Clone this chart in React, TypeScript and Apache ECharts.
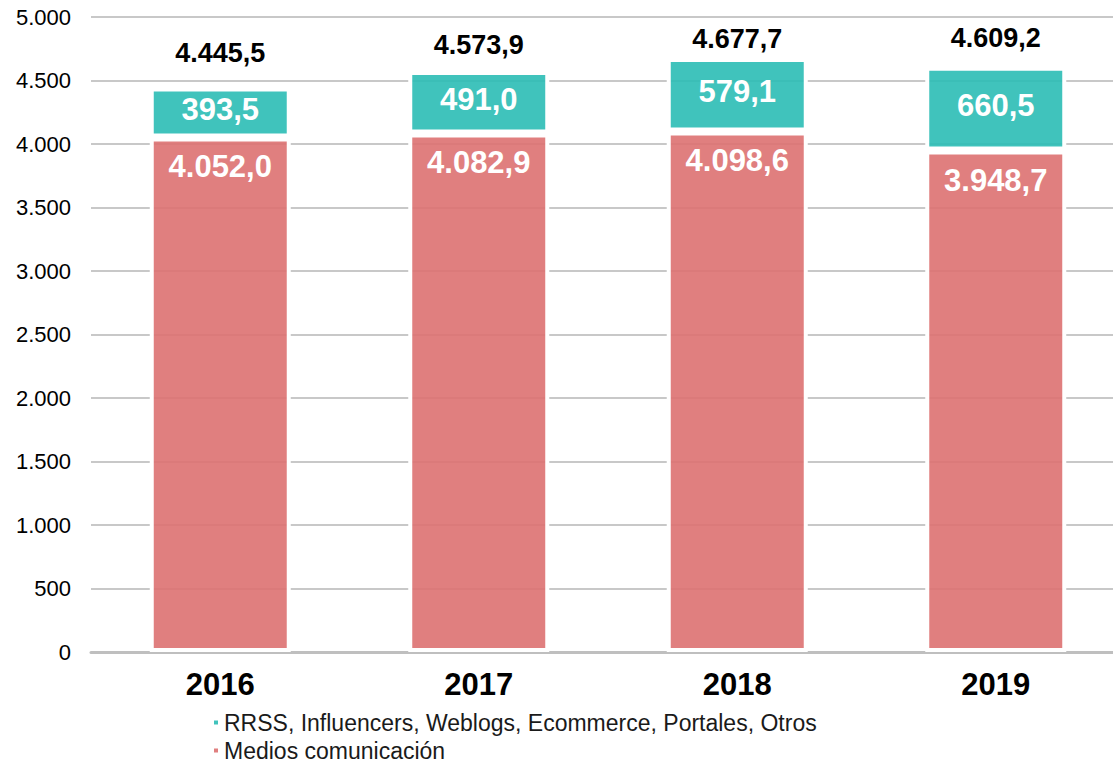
import React, { useEffect, useRef } from "react";
import * as echarts from "echarts";

const years = ["2016", "2017", "2018", "2019"];
const medios = [4052.0, 4082.9, 4098.6, 3948.7];
const rrss = [393.5, 491.0, 579.1, 660.5];
const totals = [4445.5, 4573.9, 4677.7, 4609.2];
const seriesNames = ["RRSS, Influencers, Weblogs, Ecommerce, Portales, Otros", "Medios comunicación"];

const FONT = "'Liberation Sans', Arial, sans-serif";

function fmt(v: number, decimals: number): string {
  const fixed = v.toFixed(decimals);
  const [intPart, decPart] = fixed.split(".");
  const withDots = intPart.replace(/\B(?=(\d{3})+(?!\d))/g, ".");
  return decPart !== undefined ? withDots + "," + decPart : withDots;
}

export default function App() {
  const ref = useRef<HTMLDivElement>(null);
  useEffect(() => {
    document.body.style.margin = "0";
    document.body.style.overflow = "hidden";
    if (!ref.current) return;
    const chart = echarts.init(ref.current, undefined, { renderer: "svg" });
    const totalLift = [20, 12, 5, 15];
    chart.setOption({
      animation: false,
      grid: {
        left: 91,
        top: 17,
        width: 1034,
        height: 635,
        containLabel: false,
        outerBoundsMode: "none",
      },
      legend: {
        orient: "vertical",
        left: 207,
        top: 706,
        height: 120,
        icon: "rect",
        itemWidth: 6,
        itemHeight: 6,
        itemGap: 5,
        data: seriesNames,
        textStyle: { fontFamily: FONT, fontSize: 23, color: "#1a1a1a" },
        selectedMode: false,
      },
      xAxis: {
        type: "category",
        data: years,
        axisLine: { lineStyle: { color: "#bfbfbf", width: 3 } },
        axisTick: { show: false },
        axisLabel: { fontFamily: FONT, fontSize: 31, fontWeight: "bold", color: "#000", margin: 17 },
      },
      yAxis: {
        type: "value",
        min: 0,
        max: 5000,
        interval: 500,
        axisLine: { show: false },
        axisTick: { show: false },
        splitLine: { lineStyle: { color: "#c8c8c8", width: 2 } },
        axisLabel: {
          fontFamily: FONT,
          fontSize: 22,
          color: "#000",
          margin: 20,
          formatter: (v: number) => fmt(v, 0),
        },
      },
      series: [
        {
          name: seriesNames[1],
          type: "bar",
          stack: "s",
          barWidth: 141,
          data: medios,
          itemStyle: { color: "rgba(221,113,113,0.9)", borderColor: "#ffffff", borderWidth: 4 },
          label: {
            show: true,
            position: "insideTop",
            distance: 14,
            fontFamily: FONT,
            fontSize: 31,
            fontWeight: "bold",
            color: "#fff",
            formatter: (p: any) => fmt(p.value, 1),
          },
          emphasis: { disabled: true },
        },
        {
          name: seriesNames[0],
          type: "bar",
          stack: "s",
          barWidth: 141,
          data: rrss,
          itemStyle: { color: "rgba(43,189,181,0.9)", borderColor: "#ffffff", borderWidth: 4 },
          label: {
            show: true,
            position: "inside",
            offset: [0, -3],
            fontFamily: FONT,
            fontSize: 31,
            fontWeight: "bold",
            color: "#fff",
            formatter: (p: any) => fmt(p.value, 1),
          },
          emphasis: { disabled: true },
        },
        {
          name: "Total",
          type: "scatter",
          symbolSize: 1,
          itemStyle: { color: "rgba(0,0,0,0)", opacity: 1 },
          data: totals.map((v, i) => ({ value: v, label: { distance: totalLift[i] } })),
          label: {
            show: true,
            position: "top",
            fontFamily: FONT,
            fontSize: 27,
            fontWeight: "bold",
            color: "#000",
            opacity: 1,
            formatter: (p: any) => fmt(p.value, 1),
          },
          emphasis: { disabled: true },
          z: 10,
        },
      ],
    });
    return () => chart.dispose();
  }, []);
  return <div ref={ref} style={{ width: 1113, height: 764, position: "absolute", left: 0, top: 0 }} />;
}
